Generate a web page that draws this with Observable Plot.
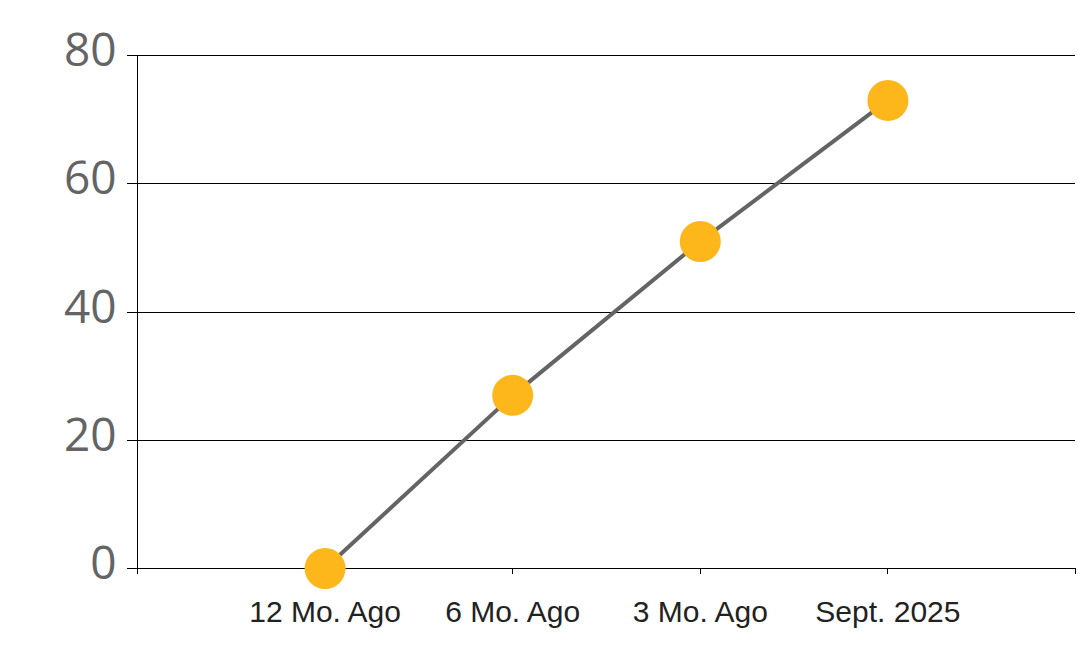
<!DOCTYPE html>
<html>
<head>
<meta charset="utf-8">
<script src="https://cdn.jsdelivr.net/npm/d3@7"></script>
<script src="https://cdn.jsdelivr.net/npm/@observablehq/plot@0.6"></script>
<style>
  html, body { margin: 0; padding: 0; background: #fff; }
  svg line, svg path[stroke="#000"], svg g[stroke="#000"] { shape-rendering: crispEdges; }
</style>
</head>
<body>
<div id="chart"></div>
<script>
const categories = ["12 Mo. Ago", "6 Mo. Ago", "3 Mo. Ago", "Sept. 2025"];
const values = [0, 27, 51, 73];
const yTicks = [0, 20, 40, 60, 80];

const data = categories.map((c, i) => ({ label: c, pos: i + 1, value: values[i] }));
const xTicks = d3.range(0, categories.length + 2);

const chart = Plot.plot({
  width: 1078,
  height: 663,
  marginLeft: 137,
  marginRight: 3,
  marginTop: 55,
  marginBottom: 95,
  style: { background: "#fff", overflow: "visible" },
  x: { domain: [0, categories.length + 1], axis: null, label: null },
  y: { domain: [0, 80], axis: null, label: null },
  marks: [
    Plot.gridY(yTicks, { stroke: "#000", strokeOpacity: 1, strokeWidth: 1 }),
    Plot.axisY(yTicks, {
      tickSize: 10, stroke: "#000", label: null, tickFormat: () => ""
    }),
    Plot.axisY(yTicks, {
      tickSize: 0, tickPadding: 21, label: null,
      fontSize: 46, fill: "#646464", fontFamily: "'Open Sans', sans-serif",
      dy: -4, tickFormat: d => d
    }),
    Plot.ruleX([0], { y1: 0, y2: 80, stroke: "#000" }),
    Plot.axisX(xTicks, {
      tickSize: 6, tickPadding: 26, stroke: "#000", label: null,
      fontSize: 30, fill: "#222", fontFamily: "'Liberation Sans', Arial, sans-serif",
      tickFormat: d => (d >= 1 && d <= categories.length) ? categories[d - 1] : ""
    }),
    Plot.ruleY([0], { stroke: "#000" }),
    Plot.line(data, { x: "pos", y: "value", stroke: "#646464", strokeWidth: 4 }),
    Plot.dot(data, { x: "pos", y: "value", r: 20.5, fill: "#FDB71A", stroke: null })
  ]
});
document.getElementById("chart").appendChild(chart);
</script>
</body>
</html>
